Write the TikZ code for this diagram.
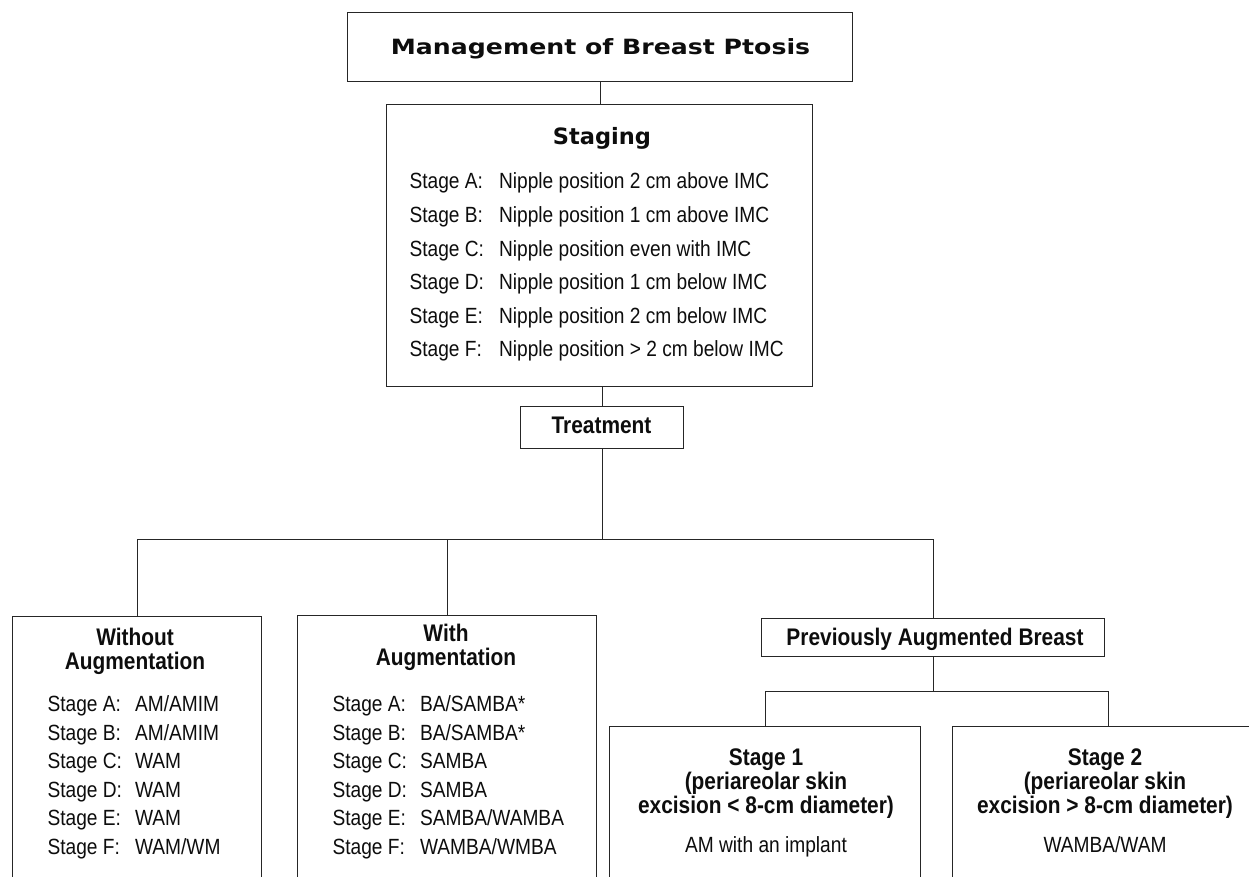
\documentclass[tikz,border=0pt]{standalone}
\usepackage{fontspec}
\setmainfont{Liberation Sans}[FakeStretch=0.87]
\newfontfamily\titlefont{DejaVu Sans}[FakeStretch=1.2]
\newfontfamily\stagingfont{DejaVu Sans}

\begin{document}
\begin{tikzpicture}[
                    x=1pt,
                    y=-1pt,
                    line width=1.2pt,
                    color=black!85
                ]
                \tikzstyle{box}=[draw, rectangle, inner sep=0pt, anchor=north west]
                \tikzstyle{txt}=[inner sep=0pt, anchor=base, text=black!95, font=\fontsize{22}{28.5}\selectfont]
                \tikzstyle{head}=[txt, font=\bfseries\fontsize{24}{23}\selectfont]
                \tikzstyle{list}=[txt, anchor=base west]

                \useasboundingbox (0,0) rectangle (1249,877);
                \clip (0,0) rectangle (1249,877);

                % boxes
                \node[box, minimum width=505pt, minimum height=69pt] (title) at (347,12) {};
                \node[box, minimum width=426pt, minimum height=282pt] (staging) at (386,104) {};
                \node[box, minimum width=163pt, minimum height=42pt] (treatment) at (520,406) {};
                \node[box, minimum width=249pt, minimum height=290pt] (without) at (12,616) {};
                \node[box, minimum width=299pt, minimum height=290pt] (with) at (297,615) {};
                \node[box, minimum width=343pt, minimum height=38pt] (previous) at (761,618) {};
                \node[box, minimum width=311pt, minimum height=180pt] (stageone) at (609,726) {};
                \node[box, minimum width=311pt, minimum height=180pt] (stagetwo) at (952,726) {};

                % texts
                \node[txt, font=\titlefont\bfseries\fontsize{21}{25}\selectfont] (titletext) at (600.5,55) {Management of Breast Ptosis};
                \node[txt, font=\stagingfont\bfseries\fontsize{22.5}{27}\selectfont] (stagingtext) at (602,145) {Staging};
                \node[list, font=\fontsize{22}{33.6}\selectfont] (staginglist) at (409,189) {\begin{tabular}[t]{@{}l@{\hspace{15pt}}l@{}}
                    Stage A: & Nipple position 2 cm above IMC\\
                    Stage B: & Nipple position 1 cm above IMC\\
                    Stage C: & Nipple position even with IMC\\
                    Stage D: & Nipple position 1 cm below IMC\\
                    Stage E: & Nipple position 2 cm below IMC\\
                    Stage F: & Nipple position > 2 cm below IMC
                \end{tabular}};
                \node[head] (treatmenttext) at (601.5,433) {Treatment};

                \node[head] (withouttext) at (135,645) {\begin{tabular}[t]{@{}c@{}}Without\\Augmentation\end{tabular}};
                \node[list] (withoutlist) at (47,711.5) {\begin{tabular}[t]{@{}l@{\hspace{13pt}}l@{}}
                    Stage A: & AM/AMIM\\
                    Stage B: & AM/AMIM\\
                    Stage C: & WAM\\
                    Stage D: & WAM\\
                    Stage E: & WAM\\
                    Stage F: & WAM/WM
                \end{tabular}};

                \node[head] (withtext) at (446,641) {\begin{tabular}[t]{@{}c@{}}With\\Augmentation\end{tabular}};
                \node[list] (withlist) at (332,711.5) {\begin{tabular}[t]{@{}l@{\hspace{13pt}}l@{}}
                    Stage A: & BA/SAMBA*\\
                    Stage B: & BA/SAMBA*\\
                    Stage C: & SAMBA\\
                    Stage D: & SAMBA\\
                    Stage E: & SAMBA/WAMBA\\
                    Stage F: & WAMBA/WMBA
                \end{tabular}};

                \node[head] (previoustext) at (935,645) {Previously Augmented Breast};
                \node[head] (stageonetext) at (766,765) {\begin{tabular}[t]{@{}c@{}}Stage 1\\(periareolar skin\\excision < 8-cm diameter)\end{tabular}};
                \node[txt] (stageonebody) at (766,852) {AM with an implant};
                \node[head] (stagetwotext) at (1105,765) {\begin{tabular}[t]{@{}c@{}}Stage 2\\(periareolar skin\\excision > 8-cm diameter)\end{tabular}};
                \node[txt] (stagetwobody) at (1105,852) {WAMBA/WAM};

                % connectors
                \path (treatment.south) ++(0,90) coordinate (split);
                \path (previous.south) ++(0,34) coordinate (subsplit);

                \draw (title.south) -- (title.south |- staging.north);
                \draw (treatment.north) -- (treatment.north |- staging.south);
                \draw (treatment) -- (split);
                \draw (without.north) |- (split) -| (previous.north);
                \draw (with.north) -- (with.north |- split);
                \draw (previous) -- (subsplit);
                \draw (stageone.north) |- (subsplit) -| (stagetwo.north);

            \end{tikzpicture}
\end{document}
